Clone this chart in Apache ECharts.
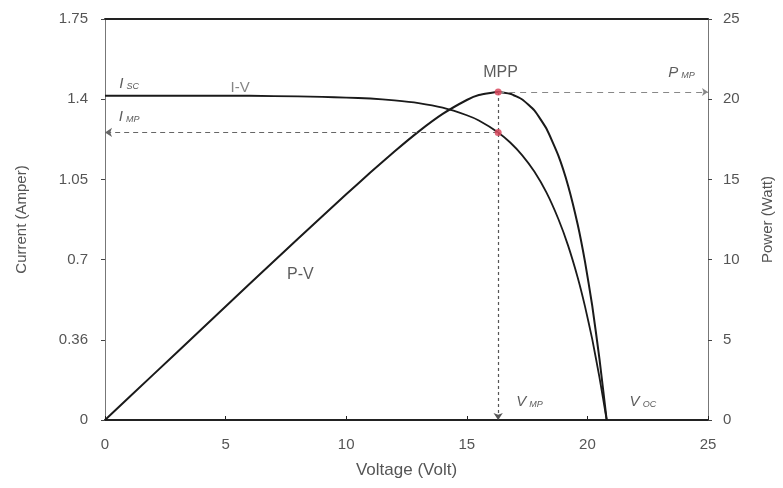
<!DOCTYPE html>
<html><head><meta charset="utf-8">
<script src="https://cdn.jsdelivr.net/npm/echarts@6/dist/echarts.min.js"></script>
<style>html,body{margin:0;padding:0;background:#fff}#c{width:783px;height:488px}</style>
</head><body><div id="c"></div>
<script>
// I-V curve (Voltage V, Current A)
const ivVolt = [0, 2, 4, 6, 8, 9, 10, 11, 12, 13, 14, 15, 15.5, 16.3, 16.8, 17.3, 17.8, 18.3, 18.8, 19.2, 19.6, 19.9, 20.2, 20.5, 20.8];
const ivCurr = [1.415, 1.415, 1.415, 1.415, 1.412, 1.41, 1.407, 1.403, 1.395, 1.383, 1.363, 1.33, 1.307, 1.255, 1.211, 1.155, 1.084, 0.993, 0.876, 0.761, 0.621, 0.496, 0.353, 0.186, 0];
// P-V curve (Voltage V, Power W)
const pvVolt = [0, 2, 4, 6, 8, 10, 11, 12, 13, 14, 15, 15.5, 16.3, 16.8, 17.3, 17.8, 18.3, 18.8, 19.2, 19.6, 19.9, 20.2, 20.5, 20.8];
const pvPow  = [0, 2.83, 5.66, 8.49, 11.3, 14.07, 15.43, 16.74, 17.98, 19.08, 19.95, 20.26, 20.45, 20.34, 19.98, 19.3, 18.17, 16.47, 14.61, 12.17, 9.87, 7.13, 3.81, 0];
// Maximum power point
const vMP = 16.3, iMP = 1.255, pMP = 20.45, vOC = 20.8;
// Axis tick labels
const xTicks = ['0', '5', '10', '15', '20', '25'];
const currTicks = ['0', '0.36', '0.7', '1.05', '1.4', '1.75'];
const powTicks = ['0', '5', '10', '15', '20', '25'];
// Text annotations: [voltage, current, key]
const notes = [[1.0, 1.467, 'isc'], [5.6, 1.45, 'iv'], [1.0, 1.323, 'imp'], [16.4, 1.515, 'mpp'],
               [23.9, 1.515, 'pmp'], [8.1, 0.633, 'pv'], [17.6, 0.079, 'vmp'], [22.3, 0.079, 'voc']];

const ivData = ivVolt.map((v, i) => [v, ivCurr[i]]);
const pvData = pvVolt.map((v, i) => [v, pvPow[i]]);
const txt = '#555';
const font = 'Liberation Sans, Arial, sans-serif';
const sub = (main, s) => '{m|' + main + '}{s|' + s + '}';
const noteText = {
  isc: sub('I', 'SC'), iv: '{g|I-V}', imp: sub('I', 'MP'), mpp: '{n|MPP}',
  pmp: sub('P', 'MP'), pv: '{n|P-V}', vmp: sub('V', 'MP'), voc: sub('V', 'OC')
};

const chart = echarts.init(document.getElementById('c'), null, {renderer: 'canvas'});
chart.setOption({
  animation: false,
  backgroundColor: '#fff',
  grid: {left: 105, right: 73, top: 19, bottom: 68},
  xAxis: [{
    type: 'value', min: 0, max: 25, interval: 5,
    name: 'Voltage (Volt)', nameLocation: 'middle', nameGap: 42,
    nameTextStyle: {color: txt, fontSize: 17, fontFamily: font},
    axisLine: {onZero: false, lineStyle: {color: '#222', width: 2}},
    axisTick: {inside: true, length: 4, lineStyle: {color: '#222'}},
    axisLabel: {color: txt, fontSize: 15, fontFamily: font, margin: 17,
      formatter: (v) => xTicks[Math.round(v / 5)]},
    splitLine: {show: false}
  }, {
    type: 'value', position: 'top', min: 0, max: 25,
    axisLine: {show: true, onZero: false, lineStyle: {color: '#222', width: 2}},
    axisTick: {show: false}, axisLabel: {show: false}, splitLine: {show: false}
  }],
  yAxis: [{
    type: 'value', min: 0, max: 1.75, interval: 0.35,
    name: 'Current (Amper)', nameLocation: 'middle', nameGap: 76, nameRotate: 90,
    nameTextStyle: {color: txt, fontSize: 15, fontFamily: font},
    axisLine: {show: true, onZero: false, lineStyle: {color: '#777', width: 1}},
    axisTick: {show: true, length: 4, lineStyle: {color: '#444'}},
    axisLabel: {color: txt, fontSize: 15, fontFamily: font, margin: 17,
      formatter: (v) => currTicks[Math.round(v / 0.35)]},
    splitLine: {show: false}
  }, {
    type: 'value', min: 0, max: 25, interval: 5, position: 'right',
    name: 'Power (Watt)', nameLocation: 'middle', nameGap: 52, nameRotate: 90,
    nameTextStyle: {color: txt, fontSize: 15, fontFamily: font},
    axisLine: {show: true, onZero: false, lineStyle: {color: '#777', width: 1}},
    axisTick: {show: true, length: 4, lineStyle: {color: '#444'}},
    axisLabel: {color: txt, fontSize: 15, fontFamily: font, margin: 15,
      formatter: (v) => powTicks[Math.round(v / 5)]},
    splitLine: {show: false}
  }],
  series: [{
    name: 'I-V', type: 'line', data: ivData, smooth: 0.15, symbol: 'none',
    lineStyle: {color: '#1a1a1a', width: 1.8},
    markLine: {
      silent: true, symbol: ['none', 'arrow'], symbolSize: 7,
      label: {show: false},
      lineStyle: {color: '#666', type: [5, 4], width: 1.2},
      data: [
        [{coord: [vMP, iMP]}, {coord: [0, iMP]}],
        [{coord: [vMP, pMP * 1.75 / 25]}, {coord: [vMP, 0], lineStyle: {type: [3, 3], color: '#555'}}]
      ]
    }
  }, {
    name: 'P-V', type: 'line', yAxisIndex: 1, data: pvData, smooth: 0.15, symbol: 'none',
    lineStyle: {color: '#1a1a1a', width: 2},
    markLine: {
      silent: true, symbol: ['none', 'arrow'], symbolSize: 6,
      label: {show: false},
      lineStyle: {color: '#888', type: [6, 5], width: 1},
      data: [[{coord: [vMP, pMP]}, {coord: [25, pMP]}]]
    }
  }, {
    name: 'MPP-I', type: 'scatter', data: [[vMP, iMP]], symbolSize: 7, z: 5,
    itemStyle: {color: '#d9495e', opacity: 0.85}
  }, {
    name: 'MPP-P', type: 'scatter', yAxisIndex: 1, data: [[vMP, pMP]], symbolSize: 7, z: 5,
    itemStyle: {color: '#d9495e', opacity: 0.85}
  }, {
    name: 'notes', type: 'scatter', data: notes, symbolSize: 0, silent: true,
    label: {
      show: true, position: 'inside',
      formatter: (p) => noteText[p.data[2]],
      rich: {
        m: {fontSize: 15, fontStyle: 'italic', color: '#333', fontFamily: font},
        s: {fontSize: 9, fontStyle: 'italic', color: '#333', fontFamily: font, verticalAlign: 'bottom', padding: [6, 0, 0, 3]},
        g: {fontSize: 15, color: '#666', fontFamily: font},
        n: {fontSize: 16, color: '#333', fontFamily: font}
      }
    }
  }]
});
</script>
</body></html>
